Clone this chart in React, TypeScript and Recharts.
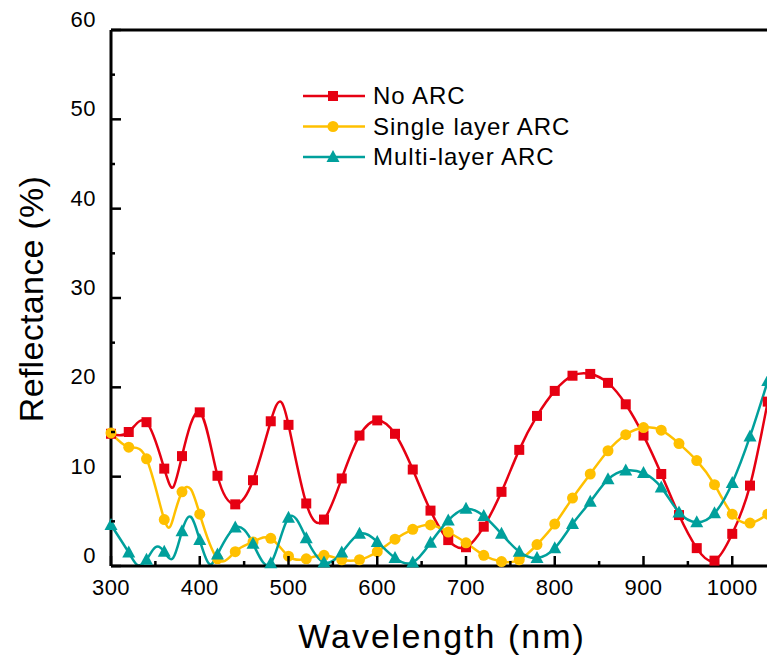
import React from "react";
import {
  LineChart,
  Line,
  XAxis,
  YAxis,
  Legend,
  ReferenceLine,
} from "recharts";

// wavelength grid (nm); markers sit on every 20 nm, extra 10 nm points only where the curve has a kink
const wavelength = [
  300, 310, 320, 330, 340, 350, 360, 370, 380, 390, 400, 410, 420, 430, 440, 450, 460, 470, 480, 490,
  500, 510, 520, 530, 540, 550, 560, 570, 580, 590, 600, 610, 620, 630, 640, 650, 660, 670, 680, 690,
  700, 710, 720, 730, 740, 750, 760, 770, 780, 790, 800, 810, 820, 830, 840, 850, 860, 870, 880, 890,
  900, 910, 920, 930, 940, 950, 960, 970, 980, 990, 1000, 1010, 1020, 1030, 1040,
];

const noArc = [
  14.8, null, 15.0, null, 16.1, null, 10.9, 8.8, 12.3, null, 17.2, null, 10.1, null, 6.9, null, 9.6, null, 16.2, 18.4,
  15.8, null, 7.0, null, 5.2, null, 9.8, null, 14.6, null, 16.3, null, 14.8, null, 10.8, null, 6.2, null, 2.9, null,
  2.1, null, 4.4, null, 8.3, null, 13.0, null, 16.8, null, 19.6, null, 21.3, null, 21.5, null, 20.5, null, 18.1, null,
  14.6, null, 10.3, null, 5.7, null, 2.0, null, 0.6, null, 3.6, null, 9.0, null, 18.4,
];

const singleLayer = [
  14.9, null, 13.3, null, 12.0, null, 5.2, 5.3, 8.3, 8.6, 5.8, null, 0.8, null, 1.6, null, 2.7, null, 3.1, null,
  1.1, null, 0.8, null, 1.2, null, 0.7, null, 0.7, null, 1.6, null, 3.0, null, 4.1, null, 4.6, null, 3.8, null,
  2.6, null, 1.2, null, 0.5, null, 0.7, null, 2.4, null, 4.7, null, 7.6, null, 10.3, null, 12.9, null, 14.7, null,
  15.5, null, 15.2, null, 13.7, null, 11.8, null, 9.1, null, 5.8, null, 4.8, null, 5.8,
];

const multiLayer = [
  4.6, null, 1.5, 0.1, 0.7, 2.1, 1.6, 0.9, 3.9, 5.5, 2.9, 0.3, 1.3, null, 4.3, null, 2.5, null, 0.3, null,
  5.4, null, 3.1, null, 0.4, null, 1.5, null, 3.6, null, 2.7, null, 0.9, null, 0.4, null, 2.6, null, 5.1, null,
  6.4, null, 5.6, null, 3.6, null, 1.6, null, 0.9, null, 2.0, null, 4.7, null, 7.2, null, 9.7, null, 10.7, null,
  10.4, null, 8.8, null, 6.0, null, 4.9, null, 5.9, null, 9.3, null, 14.5, null, 20.7,
];

const xTicks = [300, 350, 400, 450, 500, 550, 600, 650, 700, 750, 800, 850, 900, 950, 1000, 1050, 1100];
const xLabels = [300, 400, 500, 600, 700, 800, 900, 1000]; // 1100 falls outside the cropped frame
const yTicks = [0, 5, 10, 15, 20, 25, 30, 35, 40, 45, 50, 55, 60];

const RED = "#E60012";
const YELLOW = "#FFC000";
const TEAL = "#00A09C";
const FONT = "'Liberation Sans', Arial, sans-serif";

const data = wavelength.map((wl, i) => ({
  wl,
  noArc: noArc[i],
  single: singleLayer[i],
  multi: multiLayer[i],
}));

const onMarker = (p: any) => p.cy != null && p.payload && p.payload.wl % 20 === 0;

const squareDot = (p: any) =>
  onMarker(p) ? (
    <rect key={`sq-${p.index}`} x={p.cx - 5} y={p.cy - 5} width={10} height={10} fill={RED} />
  ) : (
    <g key={`sq-${p.index}`} />
  );

const circleDot = (p: any) =>
  onMarker(p) ? (
    <circle key={`ci-${p.index}`} cx={p.cx} cy={p.cy} r={5.5} fill={YELLOW} />
  ) : (
    <g key={`ci-${p.index}`} />
  );

const triPoints = (cx: number, cy: number) =>
  `${cx},${cy - 7} ${cx - 6.5},${cy + 5} ${cx + 6.5},${cy + 5}`;

const triangleDot = (p: any) =>
  onMarker(p) ? (
    <polygon key={`tr-${p.index}`} points={triPoints(p.cx, p.cy)} fill={TEAL} />
  ) : (
    <g key={`tr-${p.index}`} />
  );

const XTick = (p: any) => {
  const v = p.payload.value;
  const major = v % 100 === 0;
  return (
    <g>
      <line x1={p.x} x2={p.x} y1={p.y} y2={p.y - (major ? 10 : 5)} stroke="#000" strokeWidth={2.5} />
      {xLabels.includes(v) && (
        <text x={p.x} y={p.y + 29} textAnchor="middle" fontSize={22} letterSpacing={0.5} fontFamily={FONT} fill="#000">
          {v}
        </text>
      )}
    </g>
  );
};

const YTick = (p: any) => {
  const v = p.payload.value;
  const major = v % 10 === 0;
  return (
    <g>
      <line x1={p.x} x2={p.x + (major ? 10 : 4)} y1={p.y} y2={p.y} stroke="#000" strokeWidth={2.5} />
      {major && (
        <text x={p.x - 15} y={p.y - 3} textAnchor="end" fontSize={22} letterSpacing={0.5} fontFamily={FONT} fill="#000">
          {v}
        </text>
      )}
    </g>
  );
};

const legendRows = [
  { label: "No ARC", color: RED, shape: "square" },
  { label: "Single layer ARC", color: YELLOW, shape: "circle" },
  { label: "Multi-layer ARC", color: TEAL, shape: "triangle" },
];

const LegendBox = () => (
  <svg width={300} height={95}>
    {legendRows.map((r, i) => {
      const y = 16 + i * 30.5;
      return (
        <g key={r.label}>
          <line x1={3} x2={65} y1={y} y2={y} stroke={r.color} strokeWidth={2.5} />
          {r.shape === "square" && <rect x={28} y={y - 5} width={10} height={10} fill={r.color} />}
          {r.shape === "circle" && <circle cx={33} cy={y} r={5.5} fill={r.color} />}
          {r.shape === "triangle" && <polygon points={triPoints(33, y)} fill={r.color} />}
          <text x={73} y={y + 8} fontSize={24} letterSpacing={1} fontFamily={FONT} fill="#000">
            {r.label}
          </text>
        </g>
      );
    })}
  </svg>
);

export default function App() {
  return (
    <div
      style={{
        position: "absolute",
        left: 0,
        top: 0,
        width: 767,
        height: 660,
        overflow: "hidden",
        background: "#fff",
      }}
    >
      <LineChart width={831} height={660} data={data} margin={{ top: 30, right: 10, bottom: 0, left: 0 }}>
        <XAxis
          dataKey="wl"
          type="number"
          domain={[300, 1100]}
          ticks={xTicks}
          interval={0}
          height={94}
          tickSize={0}
          tickMargin={0}
          axisLine={{ stroke: "#000", strokeWidth: 3 }}
          tickLine={false}
          tick={<XTick />}
        />
        <YAxis
          type="number"
          domain={[0, 60]}
          ticks={yTicks}
          interval={0}
          width={111}
          tickSize={0}
          tickMargin={0}
          axisLine={{ stroke: "#000", strokeWidth: 3 }}
          tickLine={false}
          tick={<YTick />}
        />
        <ReferenceLine y={60} stroke="#000" strokeWidth={3} />
        <Legend
          layout="vertical"
          align="center"
          verticalAlign="middle"
          content={<LegendBox />}
          wrapperStyle={{ left: 300, top: 80, width: 300, height: 95 }}
        />
        <Line
          dataKey="noArc"
          type="natural"
          stroke={RED}
          strokeWidth={2.5}
          connectNulls
          dot={squareDot}
          activeDot={false}
          isAnimationActive={false}
        />
        <Line
          dataKey="single"
          type="natural"
          stroke={YELLOW}
          strokeWidth={2.5}
          connectNulls
          dot={circleDot}
          activeDot={false}
          isAnimationActive={false}
        />
        <Line
          dataKey="multi"
          type="natural"
          stroke={TEAL}
          strokeWidth={2.5}
          connectNulls
          dot={triangleDot}
          activeDot={false}
          isAnimationActive={false}
        />
      </LineChart>
      <div
        style={{
          position: "absolute",
          left: 0,
          top: 0,
          pointerEvents: "none",
        }}
      >
        <svg width={767} height={660}>
          <text
            x={43}
            y={299}
            transform="rotate(-90, 43, 299)"
            textAnchor="middle"
            fontSize={34}
            letterSpacing={0.3}
            fontFamily={FONT}
            fill="#000"
          >
            Reflectance (%)
          </text>
          <text x={442} y={648} textAnchor="middle" fontSize={34} letterSpacing={2} fontFamily={FONT} fill="#000">
            Wavelength (nm)
          </text>
        </svg>
      </div>
    </div>
  );
}
